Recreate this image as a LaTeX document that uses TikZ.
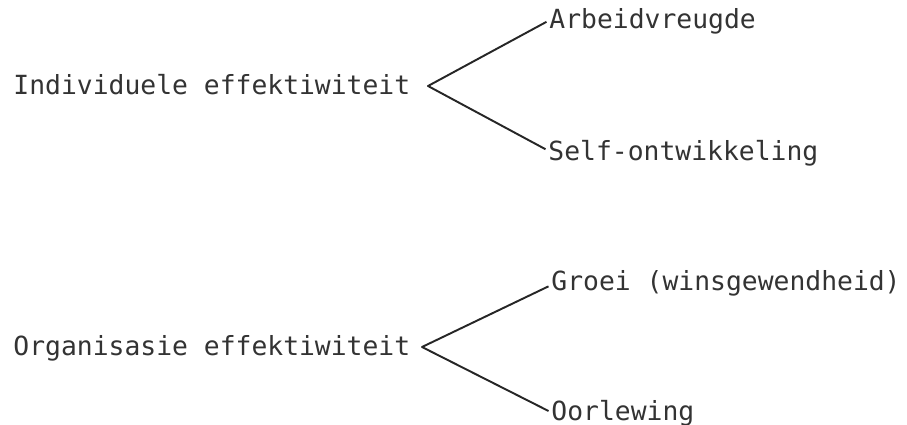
\documentclass[tikz,border=0pt]{standalone}
\usepackage{fontspec}
\setmonofont{DejaVu Sans Mono}
\usepackage{tikz}

\begin{document}
\begin{tikzpicture}[
    term/.style={anchor=base west, inner sep=1.5pt, text=black!80,
        font=\ttfamily\fontsize{15pt}{18pt}\selectfont},
    branch/.style={draw=black!85, line width=1.1pt, line join=round}
]
    \useasboundingbox (0,0) rectangle (18.14,8.48);
    % individuele effektiwiteit
    \node[term] (ind) at (0.21,6.6) {Individuele effektiwiteit};
    \coordinate (indfork) at (8.56,6.76);
    \node[term] (arb) at (10.93,7.9) {Arbeidvreugde};
    \node[term] (self) at (10.91,5.28) {Self-ontwikkeling};
    \draw[branch] (arb.west) -- (indfork) -- ([yshift=2pt]self.west);
    % organisasie effektiwiteit
    \node[term] (org) at (0.21,1.38) {Organisasie effektiwiteit};
    \coordinate (orgfork) at (8.44,1.54);
    \node[term] (groei) at (10.97,2.68) {Groei (winsgewendheid)};
    \node[term] (oorl) at (10.97,0.08) {Oorlewing};
    \draw[branch] ([yshift=-2pt]groei.west) -- (orgfork) -- ([yshift=1pt]oorl.west);
\end{tikzpicture}
\end{document}
